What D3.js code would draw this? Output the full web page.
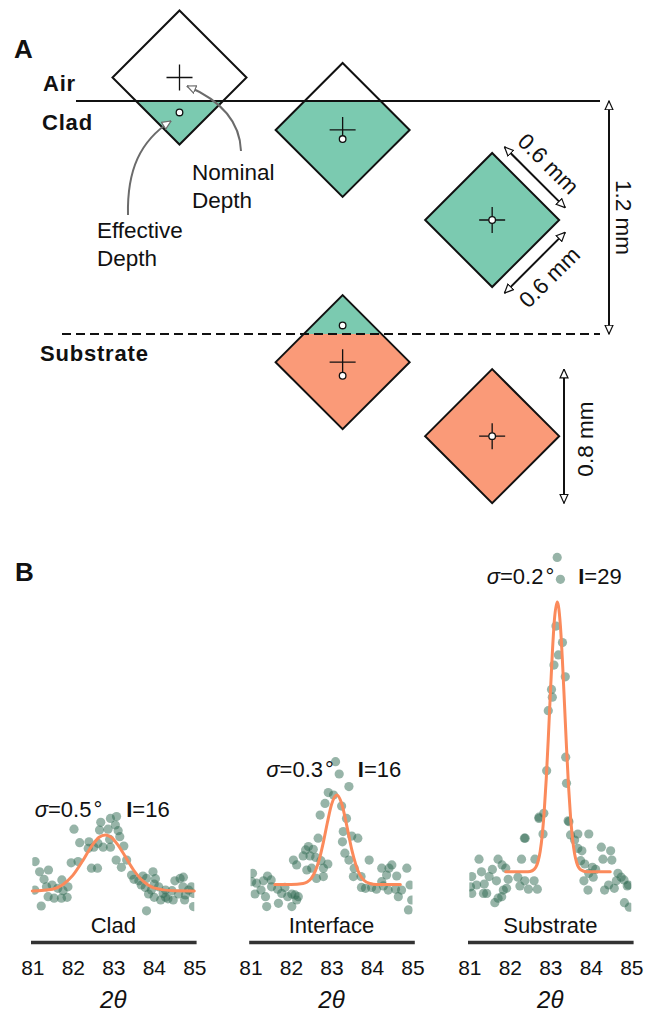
<!DOCTYPE html>
<html>
<head>
<meta charset="utf-8">
<script src="https://cdn.jsdelivr.net/npm/d3@7"></script>
<style>
  body { margin: 0; background: #fff; }
</style>
</head>
<body>
<div id="chart"></div>
<script>
// ---------- Panel A data (mm) ----------
var layerNames = ["Air", "Clad", "Substrate"];
var layerDepths = [[-1, 0], [0, 1.2], [1.2, 3]];
var diamondX = [0, 0.84, 1.61, 0.84, 1.61];
var diamondDepth = [-0.121, 0.149, 0.613, 1.345, 1.726];
var effectiveDepth = [[0.059], [0.196], [0.613], [1.156, 1.415], [1.726]];
var halfDiag = 0.345;
var sideLabel = "0.6 mm";
var heightLabel = "0.8 mm";

// ---------- Panel B data ----------
var panelNames = ["Clad", "Interface", "Substrate"];
var sigmaLabels = ["0.5", "0.3", "0.2"];
var intensityLabels = ["16", "16", "29"];
var tickValues = [81, 82, 83, 84, 85];

var cladDots = [[82.69,30.9],[82.93,32.2],[83.08,32.8],[83.05,30.0],[82.87,28.6],[82.66,28.3],[83.12,28.1],
  [82.03,28.6],[82.17,24.1],[82.40,24.4],[82.52,22.6],[82.38,22.2],[82.62,23.9],[82.75,22.6],[82.93,22.6],
  [82.91,25.2],[83.16,26.1],[83.26,23.0],[81.96,17.4],[82.13,17.8],[82.46,15.6],[82.61,15.6],[83.07,18.3],
  [83.20,15.9],[83.33,18.3],[81.07,17.8],[81.18,14.4],[81.40,15.0],[81.29,11.9],[81.49,10.0],[81.35,9.4],
  [81.63,8.9],[81.73,11.7],[81.06,8.3],[81.76,8.1],[81.88,9.4],[81.39,6.1],[81.54,5.6],[81.72,5.6],
  [81.86,5.9],[81.22,3.0],[83.45,13.3],[83.51,11.9],[83.63,11.4],[83.73,13.0],[83.82,12.2],[83.69,10.0],
  [83.79,9.2],[83.94,8.3],[83.98,14.4],[84.04,12.1],[84.01,10.3],[84.12,9.4],[84.23,7.2],[84.29,5.9],
  [84.35,5.4],[84.45,8.1],[84.52,11.4],[84.65,12.2],[84.73,12.6],[84.72,9.4],[84.78,6.7],[84.86,8.3],
  [84.98,7.2],[84.98,2.8],[84.76,5.0],[84.29,8.3],[84.17,5.0],[83.87,7.0],[84.01,5.9],[83.82,1.4],
  [84.48,5.0],[84.61,7.0],[84.93,9.4]];

var interfaceDots = [[83.10,51.1],[83.19,47.0],[83.43,42.8],[82.92,40.8],[83.05,40.0],[82.84,37.2],[83.25,36.3],
  [83.37,32.2],[82.72,33.3],[83.29,27.8],[83.50,26.3],[83.65,25.6],[83.27,24.4],[82.67,25.6],[82.43,22.8],
  [82.36,21.7],[82.55,21.9],[82.30,19.7],[82.47,19.7],[82.61,19.2],[82.06,18.3],[82.74,18.1],[82.91,17.0],
  [82.80,15.6],[83.33,20.6],[83.43,18.3],[83.54,12.8],[83.73,12.8],[83.93,18.3],[84.24,15.6],[84.42,15.6],
  [84.49,16.7],[84.86,15.6],[84.36,13.3],[84.61,13.0],[84.24,11.1],[83.56,15.6],[83.74,9.2],[83.84,8.9],
  [83.99,9.2],[84.11,8.6],[84.28,9.7],[84.40,8.3],[84.58,8.6],[84.65,6.1],[84.73,8.3],[84.94,10.0],
  [84.98,5.0],[84.90,1.7],[81.05,13.9],[81.03,11.1],[81.15,10.6],[81.32,11.4],[81.42,13.0],[81.51,11.7],
  [81.52,9.4],[81.67,8.6],[81.77,7.2],[81.85,9.2],[81.92,6.1],[82.02,7.0],[82.10,6.7],[82.18,6.1],
  [81.37,6.1],[81.26,8.3],[81.11,7.0],[81.40,2.8],[81.69,3.9],[82.02,2.8],[82.14,5.0],[82.63,12.2],
  [82.80,12.8],[82.51,15.6],[82.39,15.0],[82.14,16.7]];

var substrateDots = [[83.17,119.2],[83.25,111.9],[83.14,96.3],[83.30,90.8],[83.20,86.7],[83.09,83.3],
  [83.37,79.4],[83.03,75.2],[83.05,72.6],[82.95,68.1],[83.38,52.6],[82.91,48.1],[83.40,43.9],[82.84,33.9],
  [82.72,32.2],[83.44,31.4],[82.82,27.0],[83.50,26.7],[82.72,32.6],[83.46,31.1],[83.68,27.0],[83.95,27.0],
  [82.36,25.6],[82.38,25.6],[83.60,25.0],[83.68,22.2],[83.78,21.4],[84.26,22.6],[84.49,21.4],[84.30,18.6],
  [84.52,18.3],[81.24,18.6],[81.71,18.6],[82.29,18.6],[82.62,18.6],[83.75,18.1],[83.85,17.0],[81.81,16.7],
  [81.57,15.2],[81.30,14.4],[81.90,15.6],[84.04,15.9],[84.12,15.2],[83.95,13.9],[81.06,12.8],[81.49,12.8],
  [81.67,11.4],[82.20,12.6],[81.96,11.9],[82.37,11.4],[82.60,11.4],[84.06,12.6],[83.83,11.4],[84.67,13.9],
  [84.75,12.6],[84.82,11.7],[84.93,10.0],[84.44,10.0],[84.63,11.4],[81.03,9.4],[81.18,10.0],[81.37,10.3],
  [82.25,9.7],[82.46,8.6],[82.68,8.6],[81.92,8.9],[81.84,8.3],[81.35,7.2],[81.43,7.2],[81.06,7.2],
  [83.93,8.3],[84.34,8.3],[84.58,8.9],[84.90,9.7],[81.80,6.1],[81.71,5.6],[81.63,4.1],[84.83,4.1],[84.95,2.6]];

var cladFit = [[81.0,8.0],[81.5,8.6],[81.75,10.1],[82.0,13.2],[82.25,18.2],[82.4,21.6],[82.5,23.6],[82.65,25.9],
  [82.8,26.7],[83.0,25.3],[83.1,23.6],[83.25,20.5],[83.5,15.0],[83.75,11.1],[84.0,9.05],[84.5,8.06],[85.0,8.0]];
var interfaceFit = [[81.6,10.2],[82.0,10.2],[82.3,10.5],[82.4,11.0],[82.5,12.2],[82.6,14.6],[82.7,18.6],
  [82.8,24.3],[82.9,30.9],[83.0,36.8],[83.13,40.0],[83.25,37.2],[83.4,28.3],[83.5,21.8],[83.6,16.8],
  [83.7,13.4],[83.8,11.6],[83.95,10.5],[84.1,10.2],[84.7,10.2]];
var substrateFit = [[81.9,14.4],[82.4,14.4],[82.5,14.5],[82.6,15.2],[82.65,16.1],[82.7,18.0],[82.75,21.2],
  [82.8,26.5],[82.85,34.6],[82.9,45.4],[82.95,58.7],[83.0,73.4],[83.05,87.2],[83.1,98.1],[83.17,104.3],
  [83.2,103.1],[83.25,96.3],[83.3,84.6],[83.35,70.4],[83.4,55.9],[83.45,43.0],[83.5,32.7],[83.55,25.3],
  [83.6,20.4],[83.65,17.5],[83.75,15.1],[83.9,14.4],[84.48,14.4]];

var panelDots = [cladDots, interfaceDots, substrateDots];
var panelFits = [cladFit, interfaceFit, substrateFit];

// ---------- Layout ----------
var width = 646, height = 1013;
var font = "'Liberation Sans', Arial, Helvetica, sans-serif";
var ink = "#111";
var teal = "#7bcab0", coral = "#fa9a78";
var layerFill = ["#ffffff", teal, coral];

var svg = d3.select("#chart").append("svg")
  .attr("width", width)
  .attr("height", height)
  .style("font-family", font);

var defs = svg.append("defs");

function addMarker(id, color) {
  defs.append("marker")
    .attr("id", id)
    .attr("viewBox", "0 0 10 10")
    .attr("refX", 9.4)
    .attr("refY", 5)
    .attr("markerWidth", 10)
    .attr("markerHeight", 10)
    .attr("markerUnits", "userSpaceOnUse")
    .attr("orient", "auto-start-reverse")
    .append("path")
    .attr("d", "M0.6,1 L9.4,5 L0.6,9 Z")
    .attr("fill", "white")
    .attr("stroke", color)
    .attr("stroke-width", 1.2);
}
addMarker("arrowBlack", ink);
addMarker("arrowGray", "#6b6b6b");

// scales for the schematic (mm -> px)
var xA = d3.scaleLinear().domain([0, 1]).range([179.5, 373.7]);
var yA = d3.scaleLinear().domain([0, 1.2]).range([101, 334]);
var hd = xA(halfDiag) - xA(0);

var gA = svg.append("g");

gA.append("text")
  .attr("x", 14).attr("y", 58)
  .attr("font-size", 26).attr("font-weight", "bold").attr("fill", ink)
  .text("A");

// diamonds filled by layer
diamondX.forEach(function(dx, i) {
  var cx = xA(dx), cy = yA(diamondDepth[i]);
  var pts = [[cx, cy - hd], [cx + hd, cy], [cx, cy + hd], [cx - hd, cy]];
  defs.append("clipPath").attr("id", "dclip" + i)
    .append("polygon").attr("points", pts.map(p => p.join(",")).join(" "));
  var g = gA.append("g").attr("clip-path", "url(#dclip" + i + ")");
  layerDepths.forEach(function(ld, j) {
    g.append("rect")
      .attr("x", cx - hd - 2)
      .attr("width", 2 * hd + 4)
      .attr("y", yA(ld[0]))
      .attr("height", yA(ld[1]) - yA(ld[0]))
      .attr("fill", layerFill[j]);
  });
  gA.append("polygon")
    .attr("points", pts.map(p => p.join(",")).join(" "))
    .attr("fill", "none")
    .attr("stroke", ink)
    .attr("stroke-width", 2);
});

// layer boundaries
gA.append("line")
  .attr("x1", 76).attr("x2", 600)
  .attr("y1", yA(layerDepths[1][0])).attr("y2", yA(layerDepths[1][0]))
  .attr("stroke", ink).attr("stroke-width", 2);
gA.append("line")
  .attr("x1", 62).attr("x2", 600)
  .attr("y1", yA(layerDepths[2][0])).attr("y2", yA(layerDepths[2][0]))
  .attr("stroke", ink).attr("stroke-width", 2)
  .attr("stroke-dasharray", "9,5");

// nominal depth crosses and effective depth circles
diamondX.forEach(function(dx, i) {
  var cx = xA(dx), cy = yA(diamondDepth[i]);
  gA.append("path")
    .attr("d", `M${cx - 13},${cy}H${cx + 13}M${cx},${cy - 13}V${cy + 13}`)
    .attr("stroke", ink).attr("stroke-width", 1.3).attr("fill", "none");
  effectiveDepth[i].forEach(function(ed) {
    gA.append("circle")
      .attr("cx", cx).attr("cy", yA(ed)).attr("r", 3.3)
      .attr("fill", "white").attr("stroke", ink).attr("stroke-width", 1.3);
  });
});

// layer names
var layerLabelPos = [[43, 91], [42, 130], [40, 361]];
layerNames.forEach(function(n, i) {
  gA.append("text")
    .attr("x", layerLabelPos[i][0]).attr("y", layerLabelPos[i][1])
    .attr("font-size", 22).attr("font-weight", "bold")
    .attr("letter-spacing", 0.8).attr("fill", ink)
    .text(n);
});

// callouts
function multiline(x, y, lines) {
  var t = gA.append("text").attr("x", x).attr("y", y)
    .attr("font-size", 22.5).attr("fill", ink);
  lines.forEach(function(l, k) {
    t.append("tspan").attr("x", x).attr("dy", k === 0 ? 0 : 28).text(l);
  });
}
multiline(192, 180, ["Nominal", "Depth"]);
multiline(97, 238, ["Effective", "Depth"]);

gA.append("path")
  .attr("d", "M241,151 C240,121 220,100 187,86")
  .attr("fill", "none").attr("stroke", "#6b6b6b").attr("stroke-width", 2)
  .attr("marker-end", "url(#arrowGray)");
gA.append("path")
  .attr("d", "M128,215 C127,170 140,141 171,121")
  .attr("fill", "none").attr("stroke", "#6b6b6b").attr("stroke-width", 2)
  .attr("marker-end", "url(#arrowGray)");

// dimension arrows
function dimArrow(x1, y1, x2, y2) {
  gA.append("line")
    .attr("x1", x1).attr("y1", y1).attr("x2", x2).attr("y2", y2)
    .attr("stroke", ink).attr("stroke-width", 2)
    .attr("marker-start", "url(#arrowBlack)")
    .attr("marker-end", "url(#arrowBlack)");
}

// 1.2 mm across the clad
var yTop = yA(layerDepths[1][0]), yBot = yA(layerDepths[1][1]);
dimArrow(609, yTop, 609, yBot);
gA.append("text")
  .attr("transform", `translate(616,${(yTop + yBot) / 2}) rotate(90)`)
  .attr("text-anchor", "middle").attr("font-size", 22.5).attr("fill", ink)
  .text((layerDepths[1][1] - layerDepths[1][0]).toFixed(1) + " mm");

// 0.6 mm sides of the third diamond
(function() {
  var cx = xA(diamondX[2]), cy = yA(diamondDepth[2]);
  var off = 13 / Math.SQRT2, shrink = 4.5 / Math.SQRT2;
  // upper-right side
  dimArrow(cx + off + shrink, cy - hd - off + shrink, cx + hd + off - shrink, cy - off - shrink);
  // lower-right side
  dimArrow(cx + hd + off - shrink, cy + off + shrink, cx + off + shrink, cy + hd + off - shrink);
  var m1 = [cx + hd / 2 + off, cy - hd / 2 - off];
  gA.append("text")
    .attr("transform", `translate(${m1[0] + 8},${m1[1] - 8}) rotate(45)`)
    .attr("text-anchor", "middle").attr("font-size", 22.5).attr("fill", ink)
    .text(sideLabel);
  var m2 = [cx + hd / 2 + off, cy + hd / 2 + off];
  gA.append("text")
    .attr("transform", `translate(${m2[0] + 20},${m2[1] + 20}) rotate(-45)`)
    .attr("text-anchor", "middle").attr("font-size", 22.5).attr("fill", ink)
    .text(sideLabel);
})();

// 0.8 mm height of the last diamond
(function() {
  var cy = yA(diamondDepth[4]);
  dimArrow(564, cy - hd, 564, cy + hd);
  gA.append("text")
    .attr("transform", `translate(593,${cy + 3}) rotate(-90)`)
    .attr("text-anchor", "middle").attr("font-size", 22.5).attr("fill", ink)
    .text(heightLabel);
})();

// ---------- Panel B ----------
var gB = svg.append("g");
gB.append("text")
  .attr("x", 15).attr("y", 581)
  .attr("font-size", 26).attr("font-weight", "bold").attr("fill", ink)
  .text("B");

var panelLeft = [32.3, 250.5, 469.3];
var panelWidth = 162;
var axisY = 942;
var yB = d3.scaleLinear().domain([0, 120]).range([915, 555]);

panelNames.forEach(function(name, i) {
  var xs = d3.scaleLinear().domain([81, 85]).range([panelLeft[i], panelLeft[i] + panelWidth]);
  var g = gB.append("g");

  defs.append("clipPath").attr("id", "pclip" + i)
    .append("rect")
    .attr("x", xs(81)).attr("width", xs(85) - xs(81))
    .attr("y", 0).attr("height", height);

  g.append("g").attr("clip-path", "url(#pclip" + i + ")")
    .selectAll("circle")
    .data(panelDots[i])
    .enter().append("circle")
    .attr("cx", d => xs(d[0]))
    .attr("cy", d => yB(d[1]))
    .attr("r", 4.6)
    .attr("fill", "#2f6a52")
    .attr("fill-opacity", 0.5);

  var line = d3.line()
    .x(d => xs(d[0]))
    .y(d => yB(d[1]))
    .curve(d3.curveMonotoneX);
  g.append("path")
    .datum(panelFits[i])
    .attr("d", line)
    .attr("fill", "none")
    .attr("stroke", "#fb8a5b")
    .attr("stroke-width", 3)
    .attr("stroke-linecap", "round");

  // fit label above peak
  var peak = d3.greatest(panelFits[i], d => d[1]);
  var lab = g.append("text")
    .attr("x", xs(peak[0]) - 3)
    .attr("y", yB(peak[1]) - 18)
    .attr("text-anchor", "middle")
    .attr("font-size", 22)
    .attr("fill", ink);
  lab.append("tspan").attr("font-style", "italic").text("σ");
  lab.append("tspan").text("=" + sigmaLabels[i]);
  lab.append("tspan").attr("dx", 2).text("°");
  lab.append("tspan").attr("dx", 24).attr("font-weight", "bold").text("I");
  lab.append("tspan").text("=" + intensityLabels[i]);

  // panel name
  g.append("text")
    .attr("x", (xs(81) + xs(85)) / 2)
    .attr("y", 933)
    .attr("text-anchor", "middle")
    .attr("font-size", 22)
    .attr("fill", ink)
    .text(name);

  // axis
  var axis = d3.axisBottom(xs)
    .tickValues(tickValues)
    .tickFormat(d3.format("d"))
    .tickSize(0)
    .tickSizeOuter(0)
    .tickPadding(18);
  var ax = g.append("g")
    .attr("transform", `translate(0,${axisY})`)
    .call(axis);
  ax.attr("font-family", font).attr("font-size", 21);
  ax.select(".domain")
    .attr("stroke", "#333")
    .attr("stroke-width", 3.6)
    .attr("stroke-linecap", "square");
  ax.selectAll(".tick text").attr("fill", ink);

  g.append("text")
    .attr("x", (xs(81) + xs(85)) / 2)
    .attr("y", 1008)
    .attr("text-anchor", "middle")
    .attr("font-size", 24)
    .attr("font-style", "italic")
    .attr("fill", ink)
    .text("2θ");
});
</script>
</body>
</html>
